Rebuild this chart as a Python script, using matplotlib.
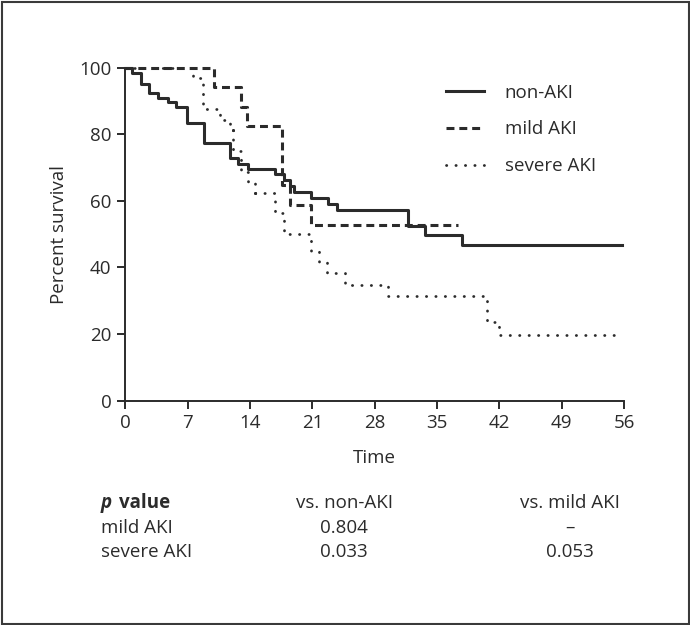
import matplotlib
matplotlib.use("Agg")
import matplotlib.pyplot as plt
from matplotlib.patches import Rectangle

plt.rcParams['font.family'] = ['Open Sans', 'DejaVu Sans']

# Kaplan-Meier curves (day, percent survival)
nonaki_t = [0, 0.7, 1.7, 2.6, 3.7, 4.8, 5.7, 6.9, 8.8, 11.8, 12.7, 13.8, 16.8, 17.8,
            18.5, 18.9, 20.8, 22.8, 23.8, 31.7, 33.7, 37.8, 55.8]
nonaki_s = [100, 98.3, 95.0, 92.3, 91.0, 89.8, 88.3, 83.4, 77.4, 72.8, 71.0, 69.6, 68.2, 66.2,
            64.5, 62.7, 61.0, 59.2, 57.3, 52.4, 49.8, 46.9, 46.9]

mild_t = [0, 10.0, 13.0, 13.7, 17.6, 18.5, 20.8, 37.3]
mild_s = [100, 94.1, 88.2, 82.4, 64.7, 58.8, 52.9, 52.9]

severe_t = [0, 7.6, 8.7, 10.6, 11.7, 12.1, 13.0, 13.8, 14.6, 16.8, 17.8, 20.8, 21.7, 22.6,
            24.7, 29.5, 40.6, 42.0, 55.1]
severe_s = [100, 96.9, 87.5, 84.4, 81.3, 75.0, 68.8, 65.6, 62.5, 56.3, 50.0, 45.0, 41.5, 38.2,
            34.7, 31.3, 23.5, 19.7, 19.7]

groups = ["non-AKI", "mild AKI", "severe AKI"]
x_ticks = [0, 7, 14, 21, 28, 35, 42, 49, 56]
y_ticks = [0, 20, 40, 60, 80, 100]

# p value table
p_cols = ["vs. non-AKI", "vs. mild AKI"]
p_rows = ["mild AKI", "severe AKI"]
p_vals = [["0.804", "\u2013"], ["0.033", "0.053"]]

ink = "#2b2b2b"
fs = 13.5
W, H = 690, 625
fig = plt.figure(figsize=(W / 100, H / 100), dpi=100)
ax = fig.add_axes([125.4 / W, 1 - 400.6 / H, (624 - 125.4) / W, (400.6 - 67.8) / H])

ax.step(nonaki_t, nonaki_s, where="post", color=ink, lw=2.2, label=groups[0], clip_on=False)
ax.step(mild_t, mild_s, where="post", color=ink, lw=2.2, linestyle=(0, (2.6, 1.6)),
        label=groups[1], clip_on=False)
ax.step(severe_t, severe_s, where="post", color=ink, lw=2.0, linestyle=(0, (0.1, 3.3)),
        dash_capstyle="round", solid_capstyle="round", label=groups[2], clip_on=False)

ax.set_xlim(0, 56)
ax.set_ylim(0, 100)
ax.set_xticks(x_ticks)
ax.set_yticks(y_ticks)
for s in ["top", "right"]:
    ax.spines[s].set_visible(False)
for s in ["left", "bottom"]:
    ax.spines[s].set_linewidth(1.4)
    ax.spines[s].set_color(ink)
ax.tick_params(length=6, width=1.4, color=ink, labelsize=fs, labelcolor=ink, pad=4)
ax.set_xlabel("Time", fontsize=fs, color=ink, labelpad=12)
ax.set_ylabel("Percent survival", fontsize=fs, color=ink, labelpad=8)

leg = ax.legend(loc="upper left", bbox_to_anchor=(0.61, 1.003), frameon=False, fontsize=fs,
                handlelength=2.0, handletextpad=1.1, labelspacing=1.0)
for t in leg.get_texts():
    t.set_color(ink)

# p value table below the plot
fig.text(101 / W, 1 - 503 / H, "p", fontsize=fs, fontweight="bold", fontstyle="italic",
         color=ink, va="center", ha="left")
fig.text(119 / W, 1 - 503 / H, "value", fontsize=fs, fontweight="bold",
         color=ink, va="center", ha="left")
col_x = [344, 570]
row_y = [528, 552]
for j, c in enumerate(p_cols):
    fig.text(col_x[j] / W, 1 - 503 / H, c, fontsize=fs, color=ink, va="center", ha="center")
for i, r in enumerate(p_rows):
    fig.text(101 / W, 1 - row_y[i] / H, r, fontsize=fs, color=ink, va="center", ha="left")
    for j in range(len(p_cols)):
        fig.text(col_x[j] / W, 1 - row_y[i] / H, p_vals[i][j], fontsize=fs, color=ink,
                 va="center", ha="center")

fig.patches.append(Rectangle((1.5 / W, 1.5 / H), 1 - 3 / W, 1 - 3 / H, transform=fig.transFigure,
                             fill=False, edgecolor="#3a3a3a", linewidth=1.5))

fig.savefig("out.png", dpi=100)
